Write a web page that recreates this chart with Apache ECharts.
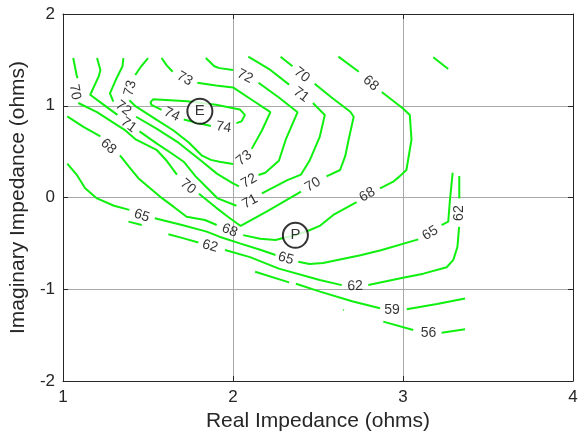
<!DOCTYPE html>
<html>
<head>
<meta charset="utf-8">
<script src="https://cdn.jsdelivr.net/npm/echarts@6/dist/echarts.min.js"></script>
<style>
  html, body { margin: 0; padding: 0; background: #fff; }
  #chart { width: 584px; height: 437px; }
</style>
</head>
<body>
<div id="chart"></div>
<script>
// axis ticks
const xTicks = [1, 2, 3, 4];
const yTicks = [-2, -1, 0, 1, 2];

// contour lines, each one a list of pieces of [real, imaginary]
const c74 = [
  [[2.02, 0.81], [2.05, 0.83], [2.07, 0.90], [2.04, 0.96], [1.90, 1.01], [1.73, 1.05], [1.53, 1.07], [1.515, 1.04], [1.52, 1.01], [1.58, 0.955]],
  [[1.71, 0.85], [1.80, 0.81], [1.87, 0.78]]
];
const c73 = [
  [[1.50, 1.52], [1.46, 1.43], [1.425, 1.335]],
  [[1.39, 1.06], [1.43, 0.99], [1.54, 0.86], [1.65, 0.73], [1.74, 0.60], [1.815, 0.46], [1.87, 0.41], [1.92, 0.39], [2.00, 0.365]],
  [[2.11, 0.53], [2.17, 0.73], [2.22, 0.93], [2.11, 1.065], [2.00, 1.20], [1.90, 1.22], [1.79, 1.25]],
  [[1.645, 1.37], [1.61, 1.44], [1.58, 1.52]]
];
const c72 = [
  [[1.355, 1.52], [1.35, 1.43], [1.31, 1.28], [1.276, 1.135], [1.296, 1.045]],
  [[1.43, 0.88], [1.55, 0.75], [1.67, 0.61], [1.82, 0.39], [1.905, 0.26], [2.00, 0.155], [2.035, 0.12]],
  [[2.15, 0.245], [2.19, 0.27], [2.27, 0.40], [2.31, 0.63], [2.38, 0.93], [2.27, 1.09], [2.15, 1.25]],
  [[2.00, 1.39], [1.92, 1.41], [1.89, 1.43], [1.84, 1.52]]
];
const c71 = [
  [[1.20, 1.52], [1.22, 1.39], [1.21, 1.32], [1.16, 1.12], [1.24, 1.01], [1.32, 0.90]],
  [[1.45, 0.72], [1.55, 0.59], [1.64, 0.48], [1.71, 0.39], [1.78, 0.23], [1.85, 0.10], [1.91, -0.01], [2.02, -0.09]],
  [[2.17, 0.045], [2.32, 0.19], [2.40, 0.25], [2.45, 0.40], [2.51, 0.66], [2.54, 0.90], [2.47, 1.03]],
  [[2.33, 1.23], [2.22, 1.39], [2.09, 1.535]]
];
const c70 = [
  [[1.06, 1.52], [1.08, 1.335], [1.085, 1.30]],
  [[1.09, 1.03], [1.20, 0.93], [1.30, 0.81], [1.36, 0.74], [1.43, 0.63], [1.55, 0.52], [1.61, 0.40], [1.67, 0.25]],
  [[1.80, 0.04], [1.90, -0.11], [1.97, -0.21], [2.045, -0.31], [2.20, -0.15], [2.40, 0.064]],
  [[2.55, 0.23], [2.63, 0.30], [2.66, 0.45], [2.68, 0.63], [2.71, 0.88], [2.69, 0.935], [2.58, 1.09], [2.48, 1.24]],
  [[2.35, 1.43], [2.28, 1.535]]
];
const c68 = [
  [[1.025, 0.885], [1.12, 0.77], [1.22, 0.665]],
  [[1.335, 0.46], [1.39, 0.33], [1.443, 0.21], [1.57, 0.01], [1.65, -0.10], [1.727, -0.21], [1.835, -0.245], [1.904, -0.30]],
  [[2.06, -0.41], [2.16, -0.45], [2.25, -0.463], [2.29, -0.445], [2.37, -0.41], [2.453, -0.354], [2.51, -0.31], [2.59, -0.19], [2.727, -0.05]],
  [[2.865, 0.10], [2.94, 0.17], [2.98, 0.23], [3.02, 0.30], [3.04, 0.52], [3.05, 0.63], [3.04, 0.90], [3.00, 0.97], [2.875, 1.15]],
  [[2.74, 1.37], [2.62, 1.535]]
];
const c65 = [
  [[1.025, 0.37], [1.08, 0.25], [1.13, 0.10], [1.20, -0.01], [1.30, -0.09], [1.39, -0.135]],
  [[1.54, -0.227], [1.70, -0.30], [1.845, -0.372], [1.92, -0.427], [2.04, -0.50], [2.16, -0.57], [2.25, -0.627]],
  [[2.384, -0.70], [2.45, -0.725], [2.53, -0.715], [2.75, -0.63], [2.87, -0.575], [3.09, -0.456]],
  [[3.227, -0.30], [3.266, -0.264], [3.276, -0.03], [3.292, 0.27]],
  [[3.178, 1.528], [3.266, 1.40]]
];
const c62 = [
  [[1.385, -0.263], [1.463, -0.30]],
  [[1.62, -0.40], [1.70, -0.44], [1.796, -0.49]],
  [[1.953, -0.572], [2.10, -0.65], [2.27, -0.775], [2.51, -0.90], [2.64, -0.955]],
  [[2.796, -0.954], [3.00, -0.875], [3.12, -0.83], [3.257, -0.76], [3.296, -0.68], [3.32, -0.54], [3.33, -0.32]],
  [[3.331, -0.01], [3.331, 0.234]]
];
const c59 = [
  [[2.13, -0.81], [2.33, -0.925]],
  [[2.37, -0.94], [2.512, -1.026], [2.70, -1.13], [2.865, -1.208]],
  [[3.022, -1.219], [3.20, -1.16], [3.365, -1.10]],
  [[2.648, -1.224], [2.652, -1.229]]
];
const c56 = [
  [[2.884, -1.353], [3.06, -1.444]],
  [[3.227, -1.473], [3.365, -1.437]]
];

// contour labels: text, real, imaginary, angle
const contourLabels = [
  ['74', 1.64, 0.905, -25], ['74', 1.945, 0.765, -8],
  ['73', 1.395, 1.19, 75], ['73', 2.065, 0.43, 38], ['73', 1.715, 1.295, -30],
  ['72', 1.355, 0.972, -38], ['72', 2.095, 0.18, 30], ['72', 2.07, 1.32, -27],
  ['71', 1.385, 0.79, -36], ['71', 2.10, -0.045, 28], ['71', 2.40, 1.12, -37],
  ['70', 1.07, 1.15, -80], ['70', 1.735, 0.12, -40], ['70', 2.47, 0.14, 30], ['70', 2.405, 1.335, -38],
  ['68', 1.267, 0.556, -43], ['68', 1.98, -0.36, -21], ['68', 2.79, 0.03, 29], ['68', 2.81, 1.245, -41],
  ['65', 1.463, -0.20, -18], ['65', 2.31, -0.665, -16], ['65', 3.16, -0.39, 31],
  ['62', 1.865, -0.53, -16], ['62', 2.718, -0.965, 2], ['62', 3.33, -0.17, 90],
  ['59', 2.935, -1.226, 0],
  ['56', 3.15, -1.48, 0]
];

// marked points
const markers = [['E', 1.805, 0.94], ['P', 2.367, -0.412]];

const GREEN = '#0ff00f';
const FONT = 'Liberation Sans, Arial, sans-serif';

function joinPieces(pieces) {
  const out = [];
  pieces.forEach((p, i) => {
    if (i) out.push(['-', '-']);
    p.forEach(pt => out.push(pt));
  });
  return out;
}

const lineSeries = [c74, c73, c72, c71, c70, c68, c65, c62, c59, c56].map(c => ({
  type: 'line',
  data: joinPieces(c),
  showSymbol: false,
  symbol: 'none',
  connectNulls: false,
  lineStyle: { color: GREEN, width: 2 },
  silent: true,
  z: 2
}));

const chart = echarts.init(document.getElementById('chart'), null, { renderer: 'canvas' });

const axisCommon = {
  type: 'value',
  axisLine: { show: true, onZero: false, lineStyle: { color: '#262626', width: 1 } },
  axisTick: { show: true, inside: true, length: 5, lineStyle: { color: '#262626' } }
};

chart.setOption({
  animation: false,
  grid: { left: 63, right: 11, top: 14, bottom: 56 },
  xAxis: [
    Object.assign({}, axisCommon, {
      min: xTicks[0], max: xTicks[xTicks.length - 1], interval: 1,
      name: 'Real Impedance (ohms)', nameLocation: 'middle', nameGap: 24,
      nameTextStyle: { fontSize: 21, color: '#262626', fontFamily: FONT },
      axisLabel: { fontSize: 17, color: '#262626', fontFamily: FONT, margin: 8 },
      splitLine: { show: true, lineStyle: { color: '#a8a8a8', width: 1 } }
    }),
    Object.assign({}, axisCommon, {
      position: 'top',
      min: xTicks[0], max: xTicks[xTicks.length - 1], interval: 1,
      axisLabel: { show: false }, splitLine: { show: false }
    })
  ],
  yAxis: [
    Object.assign({}, axisCommon, {
      min: yTicks[0], max: yTicks[yTicks.length - 1], interval: 1,
      name: 'Imaginary Impedance (ohms)', nameLocation: 'middle', nameGap: 21,
      nameTextStyle: { fontSize: 21, color: '#262626', fontFamily: FONT },
      axisLabel: { fontSize: 17, color: '#262626', fontFamily: FONT, margin: 8 },
      splitLine: { show: true, lineStyle: { color: '#a8a8a8', width: 1 } }
    }),
    Object.assign({}, axisCommon, {
      position: 'right',
      min: yTicks[0], max: yTicks[yTicks.length - 1], interval: 1,
      axisLabel: { show: false }, splitLine: { show: false }
    })
  ],
  series: lineSeries.concat([
    {
      type: 'scatter',
      symbol: 'circle',
      symbolSize: 1,
      itemStyle: { color: 'rgba(0,0,0,0)' },
      silent: true,
      z: 3,
      data: contourLabels.map(l => ({
        value: [l[1], l[2]],
        label: { rotate: l[3], formatter: l[0] }
      })),
      label: {
        show: true, position: 'inside', color: '#000',
        textBorderWidth: 0, fontSize: 14, fontFamily: FONT
      }
    },
    {
      type: 'scatter',
      symbol: 'circle',
      symbolSize: 25,
      itemStyle: { color: '#fff', borderColor: '#000', borderWidth: 2 },
      silent: true,
      z: 4,
      data: markers.map(m => ({ value: [m[1], m[2]], label: { formatter: m[0] } })),
      label: {
        show: true, position: 'inside', color: '#000',
        textBorderWidth: 0, fontSize: 15, fontFamily: FONT
      }
    }
  ])
});
</script>
</body>
</html>
